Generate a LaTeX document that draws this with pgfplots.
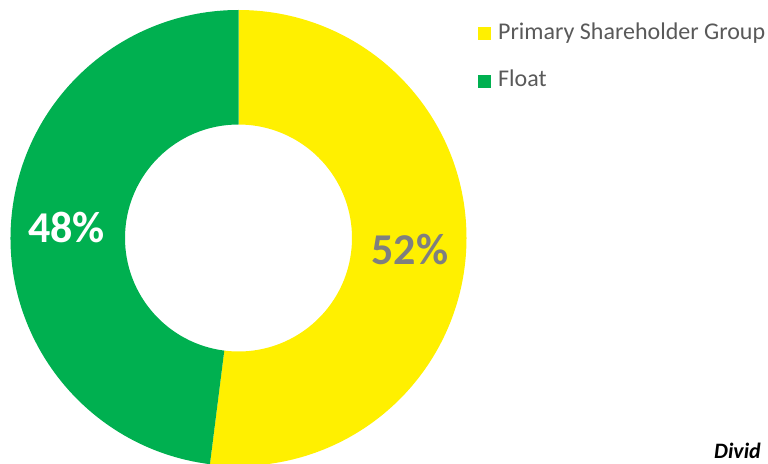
\documentclass[border=0pt]{standalone}
\usepackage{pgfplots}
\pgfplotsset{compat=1.18}
\usepackage{pgfplotstable}
\usepackage{fontspec}
\setmainfont{Carlito}

\definecolor{ringyellow}{HTML}{FFF000}
\definecolor{ringgreen}{HTML}{00B050}
\definecolor{labelgray}{HTML}{7F7F7F}
\definecolor{legendgray}{HTML}{595959}

% share of each group, in percent
\pgfplotstableread{
label value
Primary 52
Float 48
}\shares

\pgfplotstablegetelem{0}{value}\of\shares \let\vprimary\pgfplotsretval
\pgfplotstablegetelem{1}{value}\of\shares \let\vfloat\pgfplotsretval
\pgfmathsetmacro\splitangle{90-\vprimary*3.6}
\pgfmathsetmacro\endangle{\splitangle-\vfloat*3.6}

\begin{document}
\begin{tikzpicture}
  \begin{axis}[
      name=ax,
      x=1pt, y=1pt,
      xmin=0, xmax=768,
      ymin=0, ymax=463,
      hide axis,
      disabledatascaling,
      clip=false,
  ]
  % ring: centre (238.5,225), outer radius 228, inner radius 113.5
  \fill[ringyellow] (axis cs:238.5,225) ++(90:228pt)
      arc[start angle=90, end angle=\splitangle, radius=228pt]
      -- ++(\splitangle+180:114.5pt)
      arc[start angle=\splitangle, end angle=90, radius=113.5pt] -- cycle;
  \fill[ringgreen] (axis cs:238.5,225) ++(\splitangle:228pt)
      arc[start angle=\splitangle, end angle=\endangle, radius=228pt]
      -- ++(\endangle+180:114.5pt)
      arc[start angle=\endangle, end angle=\splitangle, radius=113.5pt] -- cycle;

  \node[anchor=base, text=labelgray, font=\fontsize{44}{50}\selectfont\bfseries]
      at (axis cs:410,198) {\vprimary\%};
  \node[anchor=base, text=white, font=\fontsize{44}{50}\selectfont\bfseries]
      at (axis cs:66.5,220) {\vfloat\%};

  % legend
  \fill[ringyellow] (axis cs:478,423) rectangle (axis cs:491,436);
  \node[anchor=base west, inner sep=0pt, text=legendgray, font=\fontsize{24}{28}\selectfont]
      at (axis cs:498,423) {Primary Shareholder Group};
  \fill[ringgreen] (axis cs:478,375) rectangle (axis cs:491,388);
  \node[anchor=base west, inner sep=0pt, text=legendgray, font=\fontsize{24}{28}\selectfont]
      at (axis cs:498,376) {Float};

  \node[anchor=base west, inner sep=0pt, font=\fontsize{22}{26}\selectfont\bfseries\itshape]
      at (axis cs:714,5) {Divid};
  \end{axis}
  \pgfresetboundingbox
  \path (ax.south west) rectangle (ax.north east);
\end{tikzpicture}
\end{document}
